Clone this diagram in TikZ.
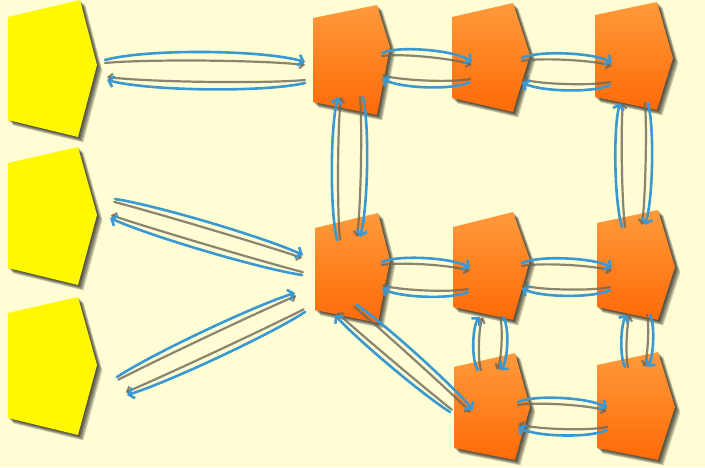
\documentclass[tikz,border=0pt]{standalone}
\usetikzlibrary{arrows.meta,calc}
\definecolor{bg}{HTML}{FFFDD3}
\definecolor{ylw}{HTML}{FFF800}
\definecolor{orA}{HTML}{FF9A3A}
\definecolor{orB}{HTML}{FF6A08}
\definecolor{lnblue}{HTML}{3A98D2}
\definecolor{lngray}{HTML}{6E6858}
\tikzset{
  blueline/.style={draw=lnblue, line width=2.6pt, line cap=round, looseness=.55,
    -{Straight Barb[length=5pt,width=11pt]}},
  grayline/.style={draw=lngray, line width=2.2pt, opacity=.8, line cap=round, looseness=.55,
    -{Straight Barb[length=4pt,width=8pt]}},
  yfill/.style={fill=ylw},
  ofill/.style={top color=orA, middle color=orA, bottom color=orB},
}
\newcommand\pentshape[7]{%
  \foreach \k in {1,...,6}{\fill[black,opacity=.17,shift={(\k*0.9,\k*0.9)}] #3--#4--#5--#6--#7--cycle;}
  \path[#2] #3--#4--#5--#6--#7--cycle;
  \coordinate (#1) at #3;
}
\newcommand\linkarc[4]{%
  \coordinate (lkA) at #1;
  \coordinate (lkB) at #2;
  \draw[grayline] ($(lkA)!3pt!-90:(lkB)$) to[bend left=#4] ($(lkB)!3pt!90:(lkA)$);
  \draw[blueline] (lkA) to[bend left=#3] (lkB);
}
\begin{document}
\begin{tikzpicture}[x=1pt,y=-1pt]
\useasboundingbox (0,0) rectangle (705,467);
\fill[bg] (0,0) rectangle (705,467);
% yellow shapes
\pentshape{Y1}{yfill}{(8,17)}{(80,0)}{(97,65)}{(78,137)}{(8,120)}
\pentshape{Y2}{yfill}{(8,163)}{(78,147)}{(97,215)}{(78,285)}{(8,268)}
\pentshape{Y3}{yfill}{(8,313)}{(78,297)}{(97,365)}{(78,435)}{(8,418)}
% orange shapes
\pentshape{O1}{ofill}{(313,18)}{(377,5)}{(390,47)}{(377,115)}{(313,102)}
\pentshape{O2}{ofill}{(452,17)}{(513,3)}{(530,55)}{(513,112)}{(452,98)}
\pentshape{O3}{ofill}{(595,15)}{(657,2)}{(673,58)}{(657,110)}{(595,97)}
\pentshape{O4}{ofill}{(315,228)}{(378,213)}{(390,260)}{(378,323)}{(315,310)}
\pentshape{O5}{ofill}{(453,227)}{(513,212)}{(530,260)}{(513,320)}{(453,307)}
\pentshape{O6}{ofill}{(597,223)}{(658,210)}{(675,267)}{(658,320)}{(597,307)}
\pentshape{O7}{ofill}{(454,367)}{(515,353)}{(530,407)}{(515,460)}{(454,448)}
\pentshape{O8}{ofill}{(597,365)}{(658,352)}{(675,407)}{(658,460)}{(597,448)}
% connectors
\linkarc{($(Y1)+(97,43)$)}{($(O1)+(-8,44)$)}{16}{6}
\linkarc{($(O1)+(-8,65)$)}{($(Y1)+(99,63)$)}{14}{6}
\linkarc{($(Y2)+(107,36)$)}{($(O4)+(-12,27)$)}{8}{2}
\linkarc{($(O4)+(-13,47)$)}{($(Y2)+(102,55)$)}{8}{2}
\linkarc{($(Y3)+(109,64)$)}{($(O4)+(-20,65)$)}{8}{2}
\linkarc{($(O4)+(-10,84)$)}{($(Y3)+(119,82)$)}{8}{2}
\linkarc{($(O1)+(69,35)$)}{($(O2)+(20,45)$)}{30}{14}
\linkarc{($(O2)+(18,65)$)}{($(O1)+(69,60)$)}{30}{14}
\linkarc{($(O2)+(70,41)$)}{($(O3)+(17,48)$)}{28}{14}
\linkarc{($(O3)+(15,70)$)}{($(O2)+(70,65)$)}{28}{14}
\linkarc{($(O4)+(67,34)$)}{($(O5)+(17,41)$)}{28}{14}
\linkarc{($(O5)+(15,65)$)}{($(O4)+(67,60)$)}{28}{14}
\linkarc{($(O5)+(69,36)$)}{($(O6)+(15,45)$)}{28}{14}
\linkarc{($(O6)+(13,67)$)}{($(O5)+(69,61)$)}{28}{14}
\linkarc{($(O7)+(64,35)$)}{($(O8)+(10,43)$)}{28}{14}
\linkarc{($(O8)+(10,65)$)}{($(O7)+(64,60)$)}{28}{14}
\linkarc{($(O1)+(50,79)$)}{($(O4)+(45,9)$)}{14}{6}
\linkarc{($(O4)+(22,12)$)}{($(O1)+(25,79)$)}{14}{6}
\linkarc{($(O3)+(53,88)$)}{($(O6)+(48,2)$)}{16}{6}
\linkarc{($(O6)+(25,4)$)}{($(O3)+(25,88)$)}{16}{6}
\linkarc{($(O5)+(50,90)$)}{($(O7)+(46,3)$)}{40}{20}
\linkarc{($(O7)+(24,3)$)}{($(O5)+(27,90)$)}{40}{20}
\linkarc{($(O6)+(53,92)$)}{($(O8)+(50,2)$)}{32}{16}
\linkarc{($(O8)+(28,2)$)}{($(O6)+(30,92)$)}{32}{16}
\linkarc{($(O4)+(42,77)$)}{($(O7)+(19,43)$)}{8}{2}
\linkarc{($(O7)+(-4,45)$)}{($(O4)+(20,87)$)}{8}{2}
\end{tikzpicture}
\end{document}
